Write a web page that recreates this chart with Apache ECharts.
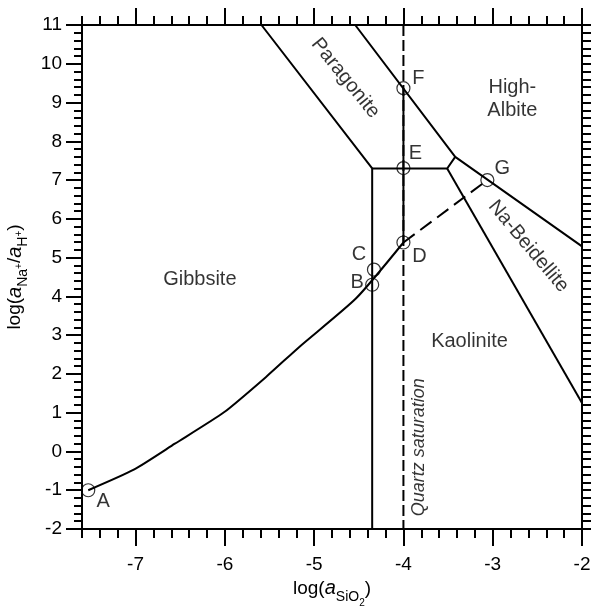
<!DOCTYPE html>
<html>
<head>
<meta charset="utf-8">
<script src="https://cdn.jsdelivr.net/npm/echarts@6/dist/echarts.min.js"></script>
<style>
  html, body { margin: 0; padding: 0; background: #fff; }
  #chart { width: 593px; height: 607px; }
</style>
</head>
<body>
<div id="chart"></div>
<script>
// axis ticks
const xMajorTicks = [-7, -6, -5, -4, -3, -2];

// named points
const pointNames = ['A', 'B', 'C', 'D', 'E', 'F', 'G'];
const pointX = [-7.53, -4.35, -4.33, -4.0, -4.0, -4.0, -3.06];
const pointY = [-1.0, 4.3, 4.69, 5.39, 7.31, 9.37, 7.0];

// boundaries
const curveAD = [[-7.53, -1.0], [-7.02, -0.47], [-6.56, 0.2], [-6.01, 1.01], [-5.53, 1.94], [-5.16, 2.71], [-4.53, 3.95], [-4.0, 5.39]];
const dashDG = [[-4.0, 5.39], [-3.06, 7.0]];
const lineFD = [[-4.0, 9.37], [-4.0, 5.39]];
const quartzLine = [[-4.0, 11], [-4.0, -2]];
const gibbsiteEdge = [[-5.59, 11], [-4.35, 7.3], [-4.35, -2]];
const paragoniteBase = [[-4.35, 7.3], [-3.51, 7.3], [-3.42, 7.6]];
const albiteEdge = [[-4.54, 11], [-3.42, 7.6], [-2.0, 5.29]];
const beidelliteEdge = [[-3.51, 7.3], [-2.0, 1.25]];

// field names
const regionNames = ['Gibbsite', 'Kaolinite', 'High-\nAlbite', 'Paragonite', 'Na-Beidellite', 'Quartz saturation'];
const regionX = [-6.28, -3.26, -2.78, -4.65, -2.6, -3.83];
const regionY = [4.44, 2.84, 9.09, 9.63, 5.29, 0.11];

const pointOffsets = { A: [15, 11], B: [-15, -2], C: [-15, -15], D: [16, 14], E: [12, -15], F: [15, -10], G: [15, -12] };
const regionStyles = {
  'Paragonite': { rotate: -51 },
  'Na-Beidellite': { rotate: -50 },
  'Quartz saturation': { rotate: 90, fontStyle: 'italic', fontSize: 18 },
};

const black = '#000';
const font = 'Liberation Sans';

const chart = echarts.init(document.getElementById('chart'));

const lineSeries = (data, dashed, smooth) => ({
  type: 'line',
  data: data,
  symbol: 'none',
  silent: true,
  animation: false,
  smooth: smooth || false,
  lineStyle: { color: black, width: 2, type: dashed || 'solid' },
});

const titleRich = {
  t: { fontSize: 19, fontFamily: font, color: black },
  it: { fontSize: 20, fontFamily: font, fontStyle: 'italic', color: black },
  sub: { fontSize: 14, fontFamily: font, color: black, padding: [16, 0, 0, 0] },
  sub2: { fontSize: 10, fontFamily: font, color: black, padding: [28, 0, 0, 0] },
  sup: { fontSize: 10, fontFamily: font, color: black, padding: [8, 0, 0, 0] },
};

const option = {
  animation: false,
  textStyle: { fontFamily: font, color: black },
  grid: { left: 82, top: 25, width: 500, height: 504, outerBoundsMode: 'none', containLabel: false },
  xAxis: [
    {
      type: 'value', position: 'bottom', min: -7.6, max: -2, interval: 0.2,
      axisLine: { show: true, onZero: false, lineStyle: { color: black, width: 2 } },
      axisTick: { show: true, inside: false, length: 9, lineStyle: { color: black, width: 2 } },
      axisLabel: { show: false },
      splitLine: { show: false },
    },
    {
      type: 'value', position: 'bottom', min: -7.6, max: -2,
      axisLine: { show: false, onZero: false },
      axisTick: { show: true, inside: false, length: 17, customValues: xMajorTicks, lineStyle: { color: black, width: 2 } },
      axisLabel: { show: true, customValues: xMajorTicks, fontSize: 19, color: black, margin: 26 },
      splitLine: { show: false },
      name: '{t|log(}{it|a}{sub|SiO}{sub2|2}{t|)}',
      nameLocation: 'middle',
      nameGap: 40,
      nameTextStyle: { rich: titleRich },
    },
    {
      type: 'value', position: 'top', min: -7.6, max: -2, interval: 0.2,
      axisLine: { show: true, onZero: false, lineStyle: { color: black, width: 2 } },
      axisTick: { show: true, inside: false, length: 9, lineStyle: { color: black, width: 2 } },
      axisLabel: { show: false },
      splitLine: { show: false },
    },
    {
      type: 'value', position: 'top', min: -7.6, max: -2,
      axisLine: { show: false, onZero: false },
      axisTick: { show: true, inside: false, length: 17, customValues: xMajorTicks, lineStyle: { color: black, width: 2 } },
      axisLabel: { show: false },
      splitLine: { show: false },
    },
  ],
  yAxis: [
    {
      type: 'value', position: 'left', min: -2, max: 11, interval: 1,
      axisLine: { show: true, onZero: false, lineStyle: { color: black, width: 2 } },
      axisTick: { show: true, inside: false, length: 16, lineStyle: { color: black, width: 2 } },
      minorTick: { show: true, splitNumber: 5, length: 8, lineStyle: { color: black, width: 2 } },
      axisLabel: { fontSize: 19, color: black, margin: 20 },
      splitLine: { show: false },
      name: '{t|log(}{it|a}{sub|Na}{sup|+}{t|/}{it|a}{sub|H}{sup|+}{t|)}',
      nameLocation: 'middle',
      nameRotate: 90,
      nameGap: 52,
      nameTextStyle: { rich: titleRich },
    },
    {
      type: 'value', position: 'right', min: -2, max: 11, interval: 1,
      axisLine: { show: true, onZero: false, lineStyle: { color: black, width: 2 } },
      axisTick: { show: true, inside: false, length: 9, lineStyle: { color: black, width: 2 } },
      minorTick: { show: true, splitNumber: 5, length: 9, lineStyle: { color: black, width: 2 } },
      axisLabel: { show: false },
      splitLine: { show: false },
    },
  ],
  series: [
    lineSeries(quartzLine, [11, 4]),
    lineSeries(gibbsiteEdge),
    lineSeries(paragoniteBase),
    lineSeries(albiteEdge),
    lineSeries(beidelliteEdge),
    lineSeries(curveAD, null, 0.2),
    lineSeries(lineFD),
    lineSeries(dashDG, [14, 7]),
    {
      type: 'scatter',
      silent: true,
      symbol: 'circle',
      symbolSize: 13,
      itemStyle: { color: 'rgba(0,0,0,0)', borderColor: black, borderWidth: 1.2 },
      data: pointNames.map((n, i) => ({
        name: n,
        value: [pointX[i], pointY[i]],
        label: { offset: pointOffsets[n] },
      })),
      label: {
        show: true, position: 'inside', formatter: '{b}',
        fontSize: 20, color: black, fontFamily: font, textBorderWidth: 0,
      },
    },
    {
      type: 'scatter',
      silent: true,
      symbolSize: 0,
      itemStyle: { color: black },
      data: regionNames.map((n, i) => ({
        name: n,
        value: [regionX[i], regionY[i]],
        label: Object.assign({}, regionStyles[n] || {}),
      })),
      label: {
        show: true, position: 'inside', formatter: '{b}',
        fontSize: 20, lineHeight: 23, color: black, fontFamily: font, align: 'center',
        textBorderWidth: 0,
      },
    },
  ],
};

chart.setOption(option);
</script>
</body>
</html>
